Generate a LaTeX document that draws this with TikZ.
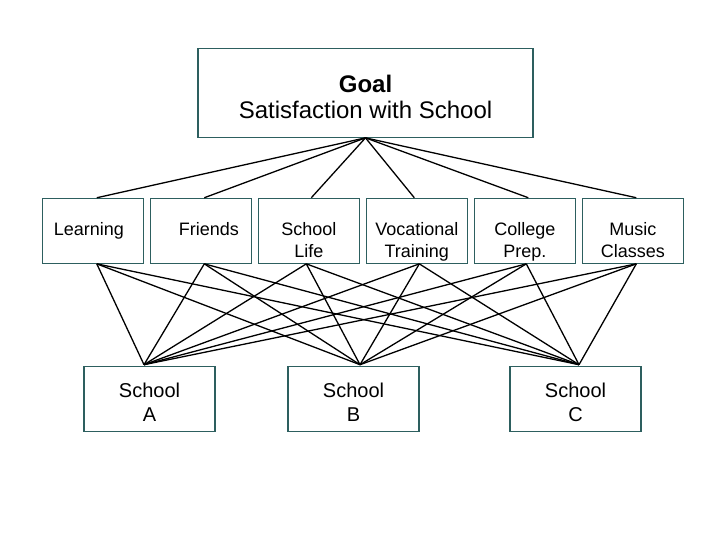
\documentclass[tikz,border=0pt]{standalone}
\usepackage{fontspec}
\setmainfont{Liberation Sans}
\usetikzlibrary{positioning}
\definecolor{boxline}{RGB}{45,95,95}

\tikzset{
	goalbox/.style={draw=boxline, line width=1.1bp, minimum width=335bp, inner sep=0pt, align=center,
		text height=70bp, text depth=19bp, font=\fontsize{24bp}{25.6bp}\selectfont},
	critbox/.style={draw=boxline, line width=1.1bp, minimum width=101bp, inner sep=0pt, align=center,
		text height=37bp, text depth=28bp, font=\fontsize{18bp}{21.7bp}\selectfont},
	crittwo/.style={critbox, text height=58.7bp, text depth=6.3bp},
	schoolbox/.style={draw=boxline, line width=1.1bp, minimum width=131bp, inner sep=0pt, align=center,
		text height=54.3bp, text depth=10bp, font=\fontsize{20bp}{23.7bp}\selectfont},
	link/.style={line width=1.3bp, black}
}

\begin{document}
\begin{tikzpicture}[x=1bp, y=-1bp]
	\useasboundingbox (0,0) rectangle (720,540);
	
	\node [goalbox] at (365.5,92.8) (goal) {\textbf{Goal}\\Satisfaction with School};
	
	\node [critbox] at (92.8,230.8) (learn) {Learning\hspace*{8bp}};
	\node [critbox, right=5.9bp of learn] (friends) {\hspace*{16bp}Friends};
	\node [crittwo, right=5.9bp of friends] (life) {School\\Life};
	\node [crittwo, right=5.9bp of life] (voc) {Vocational\\Training};
	\node [crittwo, right=5.9bp of voc] (prep) {College\\Prep.};
	\node [crittwo, right=5.9bp of prep] (music) {Music\\Classes};
	
	\node [schoolbox] at (149.5,398.9) (schA) {School\\A};
	\node [schoolbox, right=71.9bp of schA] (schB) {School\\B};
	\node [schoolbox, right=89.9bp of schB] (schC) {School\\C};
	
	\coordinate (inA) at ([xshift=-5.5bp, yshift=1.5bp]schA.north);
	\coordinate (inB) at ([xshift=6.5bp, yshift=1.5bp]schB.north);
	\coordinate (inC) at ([xshift=3.5bp, yshift=1.5bp]schC.north);
	
	% goal to criteria
	\draw [link] (goal.south) -- ([xshift=4bp]learn.north);
	\draw [link] (goal.south) -- ([xshift=3.5bp]friends.north);
	\draw [link] (goal.south) -- ([xshift=2.5bp]life.north);
	\draw [link] (goal.south) -- ([xshift=-2.5bp]voc.north);
	\draw [link] (goal.south) -- ([xshift=3.5bp]prep.north);
	\draw [link] (goal.south) -- ([xshift=3.5bp]music.north);
	
	% criteria to schools
	\draw [link] ([xshift=4bp]learn.south) -- (inA);
	\draw [link] ([xshift=4bp]learn.south) -- (inB);
	\draw [link] ([xshift=4bp]learn.south) -- (inC);
	\draw [link] ([xshift=3.5bp]friends.south) -- (inA);
	\draw [link] ([xshift=3.5bp]friends.south) -- (inB);
	\draw [link] ([xshift=3.5bp]friends.south) -- (inC);
	\draw [link] ([xshift=-2.5bp]life.south) -- (inA);
	\draw [link] ([xshift=-2.5bp]life.south) -- (inB);
	\draw [link] ([xshift=-2.5bp]life.south) -- (inC);
	\draw [link] ([xshift=2.5bp]voc.south) -- (inA);
	\draw [link] ([xshift=2.5bp]voc.south) -- (inB);
	\draw [link] ([xshift=2.5bp]voc.south) -- (inC);
	\draw [link] ([xshift=1.5bp]prep.south) -- (inA);
	\draw [link] ([xshift=1.5bp]prep.south) -- (inB);
	\draw [link] ([xshift=1.5bp]prep.south) -- (inC);
	\draw [link] ([xshift=3.5bp]music.south) -- (inA);
	\draw [link] ([xshift=3.5bp]music.south) -- (inB);
	\draw [link] ([xshift=3.5bp]music.south) -- (inC);
	
\end{tikzpicture}
\end{document}
